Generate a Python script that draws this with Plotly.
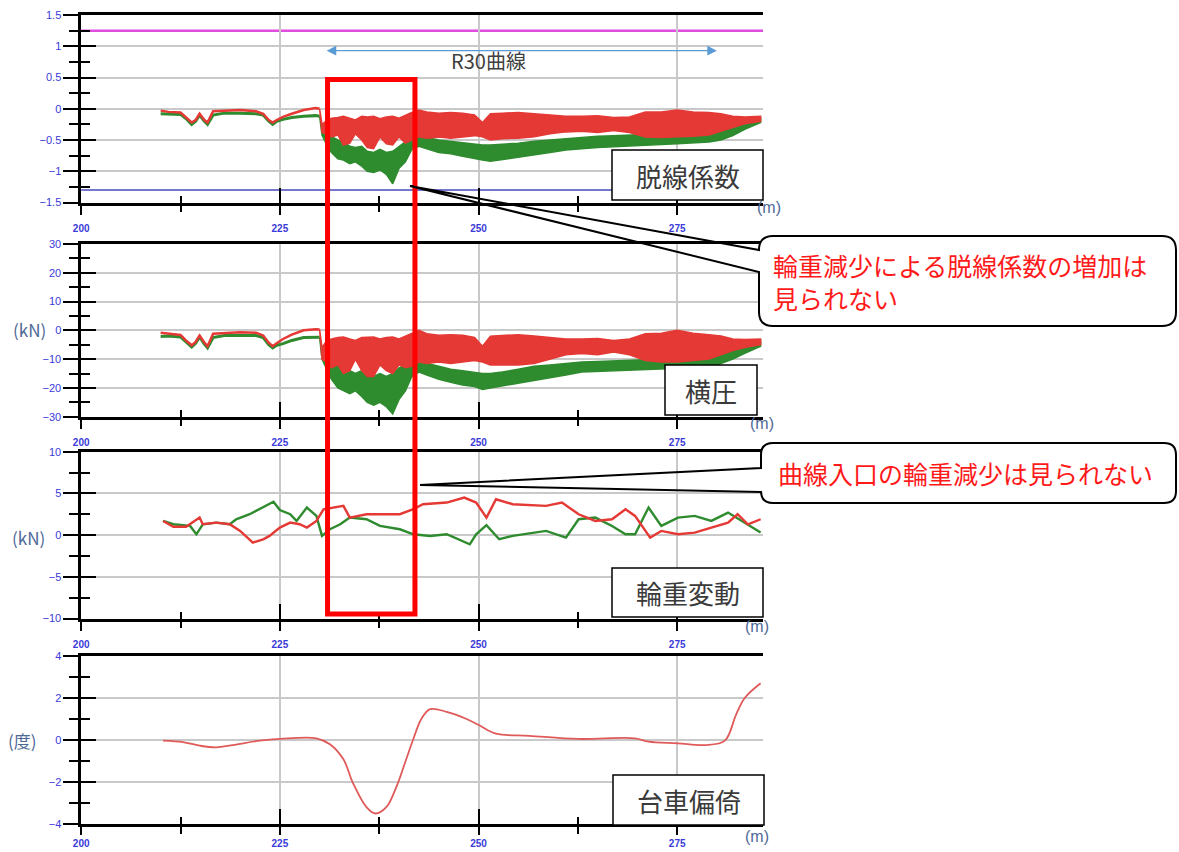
import plotly.graph_objects as go

W, H = 1179, 852

# ---------------- data ----------------
# distance (m) for the smooth lead-in section before the curve
EARLY_X = [210, 211, 212.5, 213.3, 213.9, 214.4, 214.9, 215.5, 215.9, 216.6, 218, 220,
           222, 222.9, 223.6, 224.1, 224.6, 225.4, 226.5, 228, 229.5, 230.0]
# derailment coefficient, lead-in
COEF_GRN_EARLY = [-0.08, -0.08, -0.09, -0.17, -0.25, -0.2, -0.1, -0.2, -0.25, -0.1, -0.07, -0.07,
                  -0.08, -0.1, -0.2, -0.25, -0.2, -0.17, -0.14, -0.12, -0.11, -0.12]
COEF_RED_EARLY = [-0.03, -0.05, -0.06, -0.15, -0.22, -0.18, -0.08, -0.18, -0.22, -0.04, -0.03, -0.02,
                  -0.04, -0.08, -0.18, -0.22, -0.18, -0.13, -0.08, -0.02, 0.01, 0.0]
# lateral force (kN), lead-in
LAT_GRN_EARLY = [-2.1, -2.0, -2.3, -4.5, -5.8, -4.5, -2.3, -4.8, -6.1, -2.5, -1.8, -1.7,
                 -1.8, -2.5, -5.0, -6.1, -5.2, -4.6, -3.5, -2.5, -2.3, -2.4]
LAT_RED_EARLY = [-0.8, -1.2, -1.6, -3.8, -5.2, -4.0, -1.8, -4.2, -5.5, -1.2, -0.9, -0.7,
                 -0.8, -1.8, -4.3, -5.5, -4.5, -3.0, -1.5, 0.0, 0.4, 0.3]

# distance (m) inside the R30 curve, where the signals oscillate (upper / lower envelope)
BAND_X = [230.0, 230.3, 230.8, 231.5, 232.3, 233, 233.8, 234.5, 235.3,
          236, 236.8, 237.6, 238.4, 239.2, 240, 240.8, 241.6, 242.5, 243.5,
          245, 246.5, 248, 249.5, 250.5, 251.5, 253, 255, 257, 259,
          261, 263, 265, 267, 269, 271, 273, 275, 277, 279,
          280.5, 282, 283.5, 285.5]
COEF_RED_HI = [0.0, -0.25, -0.2, -0.15, -0.14, -0.12, -0.15, -0.18, -0.12,
               -0.13, -0.12, -0.16, -0.13, -0.12, -0.15, -0.1, -0.06, -0.02, -0.05,
               -0.07, -0.06, -0.07, -0.1, -0.22, -0.08, -0.07, -0.06, -0.08, -0.1,
               -0.12, -0.12, -0.11, -0.14, -0.13, -0.05, -0.05, -0.02, -0.05, -0.06,
               -0.08, -0.12, -0.13, -0.12]
COEF_RED_LO = [0.0, -0.38, -0.4, -0.45, -0.42, -0.58, -0.55, -0.4, -0.5,
               -0.62, -0.64, -0.45, -0.56, -0.58, -0.45, -0.55, -0.5, -0.45, -0.47,
               -0.45, -0.47, -0.45, -0.43, -0.45, -0.5, -0.48, -0.47, -0.45, -0.4,
               -0.37, -0.36, -0.38, -0.35, -0.38, -0.45, -0.46, -0.45, -0.44, -0.42,
               -0.36, -0.3, -0.24, -0.2]
COEF_GRN_HI = [-0.12, -0.3, -0.4, -0.45, -0.5, -0.52, -0.6, -0.62, -0.6,
               -0.68, -0.7, -0.65, -0.7, -0.68, -0.6, -0.52, -0.45, -0.42, -0.46,
               -0.5, -0.52, -0.54, -0.56, -0.58, -0.58, -0.57, -0.55, -0.52, -0.5,
               -0.47, -0.45, -0.44, -0.43, -0.42, -0.4, -0.4, -0.4, -0.39, -0.38,
               -0.36, -0.3, -0.24, -0.15]
COEF_GRN_LO = [-0.12, -0.42, -0.55, -0.7, -0.8, -0.82, -0.88, -0.85, -0.92,
               -1.0, -1.02, -0.98, -1.05, -1.2, -0.95, -0.85, -0.65, -0.6, -0.64,
               -0.7, -0.72, -0.76, -0.8, -0.82, -0.84, -0.82, -0.78, -0.74, -0.7,
               -0.66, -0.64, -0.62, -0.6, -0.6, -0.58, -0.57, -0.56, -0.55, -0.53,
               -0.5, -0.43, -0.33, -0.22]
LAT_RED_HI = [0.3, -6, -4, -3, -2.5, -2.3, -3, -3.5, -2.5,
              -2.5, -2.3, -3, -2.5, -2.3, -3, -2, -1, 0, -1.2,
              -1.7, -1.5, -1.7, -2.5, -5.5, -2, -1.7, -1.5, -2, -2.5,
              -3, -3, -2.8, -3.5, -3, -1.2, -1, 0, -1, -1.5,
              -2, -3, -3.2, -3]
LAT_RED_LO = [0.3, -10, -11, -13, -12, -15, -14, -10, -14,
              -16, -16, -12, -14, -15, -12, -13, -12.5, -11, -11.5,
              -11, -11.5, -11, -10.5, -11, -12, -12, -12, -11.5, -10,
              -8.5, -8, -8.5, -7.5, -8.5, -10.5, -11, -11, -10.5, -10,
              -8.5, -7, -6, -5]
LAT_GRN_HI = [-2.4, -7, -9, -10, -11.5, -12, -14, -15, -14,
              -15.5, -16, -15, -16, -15, -13, -12, -11, -10.5, -11.5,
              -12.5, -13.5, -14, -14.5, -15, -15, -14.5, -13.5, -12.5, -12,
              -11.5, -11, -10.8, -10.6, -10.5, -10.4, -10, -9.8, -9.5, -9.2,
              -8.5, -7, -5.5, -3.8]
LAT_GRN_LO = [-2.4, -10, -13, -17, -20, -21, -22, -21, -23,
              -25, -26, -25, -26.5, -29, -24, -21, -16, -14.5, -15.5,
              -17, -18, -19, -19.5, -20.5, -20, -19.5, -18.5, -17.5, -16.5,
              -15.5, -14.5, -14.2, -14, -14, -13.8, -13.5, -13.2, -13, -12.7,
              -11.5, -10, -8, -5.5]

# wheel load variation (kN)
LOAD_RED_X = [210.3, 211.6, 213.2, 214.5, 214.9, 215.3, 217, 218.7, 220, 221.6, 222.9, 223.7,
              225, 226.3, 227.5, 228.4, 229.6, 230.5, 231.7, 233, 233.8, 235.9, 237.6, 240.1,
              241.8, 243, 246, 248.2, 249.7, 251, 252.2, 254.3, 258.5, 260.5, 262.6, 264.7,
              266.8, 268.5, 269.7, 271.6, 273, 275.1, 277.2, 279.3, 281.4, 282.6, 283.9, 285.5]
LOAD_RED = [1.7, 1.0, 1.0, 1.9, 2.1, 1.3, 1.5, 1.3, 0.5, -0.9, -0.5, -0.1,
            0.9, 1.5, 1.3, 0.9, 1.7, 3.1, 3.3, 3.5, 2.1, 2.5, 2.5, 2.5,
            3.1, 3.7, 3.9, 4.5, 3.9, 2.1, 4.3, 3.7, 3.5, 3.9, 2.5, 1.7,
            1.9, 3.1, 2.3, -0.3, 0.5, 0.1, 0.3, 0.9, 1.5, 2.5, 1.3, 1.9]
LOAD_GRN_X = [210.3, 211.6, 213.7, 214.5, 215.3, 217, 218.7, 219.5, 221.2, 222.9, 224.2, 225,
              226.3, 227.1, 228.4, 229.6, 230.3, 231.3, 232.6, 233.8, 235.9, 237.6, 240.1, 241.8,
              243.9, 246, 248.9, 249.7, 251, 252.6, 254.3, 258.5, 261, 262.6, 264.7, 266.8,
              268.5, 269.7, 271.4, 273, 275.1, 277.2, 279.3, 281.4, 283.5, 285.5]
LOAD_GRN = [1.7, 1.3, 1.1, 0.1, 1.3, 1.5, 1.3, 1.9, 2.5, 3.3, 4.0, 3.0,
            2.5, 1.7, 3.3, 2.3, -0.1, 0.7, 1.3, 2.1, 1.9, 1.1, 0.7, 0.1,
            -0.1, 0.1, -1.1, 0.1, 1.2, -0.5, -0.1, 0.5, -0.3, 1.9, 2.1, 1.1,
            0.1, 0.1, 3.3, 1.1, 2.1, 2.3, 1.7, 2.7, 1.5, 0.3]

# bogie yaw angle (degrees)
YAW_X = [210.3, 212.8, 214.9, 217, 219.1, 222.5, 225, 229.6, 231.3, 233, 234.2, 235.9,
         237, 238.4, 239.7, 240.75, 241.8, 242.8, 243.9, 246, 248.5, 250.1, 252.2, 256.4,
         262.6, 269.7, 271.4, 275.1, 278.5, 281, 282.4, 283.5, 285.5]
YAW = [-0.03, -0.1, -0.27, -0.35, -0.24, -0.03, 0.05, 0.08, -0.2, -0.92, -2.05, -3.2,
       -3.5, -3.2, -2.2, -1.08, 0.05, 1.0, 1.47, 1.34, 1.0, 0.7, 0.3, 0.2,
       0.05, 0.08, -0.08, -0.16, -0.24, -0.03, 1.2, 2.0, 2.7]

COEF_LIMIT_UPPER = 1.25
COEF_LIMIT_LOWER = -1.3
CURVE_START, CURVE_END = 230.7, 280.0
FOCUS_START, FOCUS_END = 231.0, 242.0

X_RANGE = [200, 285.8]
PANELS = [
    dict(top=15, bottom=202.5, rng=[-1.5, 1.5], dtick=0.5, standoff=5),
    dict(top=244, bottom=416.7, rng=[-30, 30], dtick=10, standoff=5),
    dict(top=451.7, bottom=618.5, rng=[-10, 10], dtick=5, standoff=5),
    dict(top=656, bottom=824, rng=[-4, 4], dtick=2, standoff=0),
]

# ---------------- styling ----------------
RED = "#e53935"
GREEN = "#2e8b2e"
YAW_RED = "#e05a5a"
GRID = "#c9c9c9"
TICK_BLUE = "#3a3ad8"
UNIT_BLUE = "#4e6896"
JP = "Noto Sans CJK JP"


def px(x):
    return x / W


def py(y):
    return 1 - y / H


fig = go.Figure()


def band(xs, hi, lo, color, xa, ya):
    fig.add_trace(go.Scatter(
        x=list(xs) + list(xs)[::-1], y=list(hi) + list(lo)[::-1],
        fill="toself", fillcolor=color, mode="lines",
        line=dict(color=color, width=1.5), xaxis=xa, yaxis=ya,
        hoverinfo="skip", showlegend=False))


def line(xs, ys, color, xa, ya, width=2.5, shape="linear"):
    fig.add_trace(go.Scatter(
        x=xs, y=ys, mode="lines", line=dict(color=color, width=width, shape=shape),
        xaxis=xa, yaxis=ya, hoverinfo="skip", showlegend=False))


# panel 1: derailment coefficient
band(BAND_X, COEF_GRN_HI, COEF_GRN_LO, GREEN, "x", "y")
line(EARLY_X, COEF_GRN_EARLY, GREEN, "x", "y", width=3)
band(BAND_X, COEF_RED_HI, COEF_RED_LO, RED, "x", "y")
line(EARLY_X, COEF_RED_EARLY, RED, "x", "y", width=2.5)

# panel 2: lateral force
band(BAND_X, LAT_GRN_HI, LAT_GRN_LO, GREEN, "x2", "y2")
line(EARLY_X, LAT_GRN_EARLY, GREEN, "x2", "y2", width=3)
band(BAND_X, LAT_RED_HI, LAT_RED_LO, RED, "x2", "y2")
line(EARLY_X, LAT_RED_EARLY, RED, "x2", "y2", width=2.5)

# panel 3: wheel load variation
line(LOAD_GRN_X, LOAD_GRN, GREEN, "x3", "y3", width=2.4)
line(LOAD_RED_X, LOAD_RED, RED, "x3", "y3", width=2.4)

# panel 4: bogie yaw
line(YAW_X, YAW, YAW_RED, "x4", "y4", width=1.8, shape="spline")

# empty traces so that the inner-tick overlay axes are drawn
for i in range(1, 5):
    xs_ = "x" if i == 1 else f"x{i}"
    ys_ = "y" if i == 1 else f"y{i}"
    fig.add_trace(go.Scatter(x=[], y=[], xaxis=f"x{i + 4}", yaxis=ys_, showlegend=False))
    fig.add_trace(go.Scatter(x=[], y=[], xaxis=xs_, yaxis=f"y{i + 4}", showlegend=False))

layout = dict(
    width=W, height=H, autosize=False,
    margin=dict(l=0, r=0, t=0, b=0, pad=0),
    paper_bgcolor="white", plot_bgcolor="white",
    showlegend=False,
)

x_dom = [px(81.2), px(763)]
for i, p in enumerate(PANELS, start=1):
    xk = "xaxis" if i == 1 else f"xaxis{i}"
    yk = "yaxis" if i == 1 else f"yaxis{i}"
    xref = "x" if i == 1 else f"x{i}"
    yref = "y" if i == 1 else f"y{i}"
    y_dom = [py(p["bottom"]), py(p["top"])]
    layout[xk] = dict(
        domain=x_dom, anchor=yref, range=X_RANGE, tick0=200, dtick=25,
        showgrid=True, gridcolor=GRID, gridwidth=1.5, zeroline=False,
        showline=True, linecolor="black", linewidth=2.5, mirror=True,
        ticks="outside", ticklen=10 if i < 4 else 8, tickwidth=2, tickcolor="black",
        minor=dict(tick0=200, dtick=12.5, ticks="outside", ticklen=7, tickwidth=2,
                   tickcolor="black", showgrid=False),
        tickfont=dict(family="Liberation Sans", size=10, color=TICK_BLUE, weight="bold"),
        ticklabelstandoff=p["standoff"], automargin=False, fixedrange=True,
    )
    layout[yk] = dict(
        domain=y_dom, anchor=xref, range=p["rng"], tick0=0, dtick=p["dtick"],
        showgrid=True, gridcolor=GRID, gridwidth=1.5, zeroline=False,
        showline=True, linecolor="black", linewidth=2.5,
        ticks="outside", ticklen=15, tickwidth=2, tickcolor="black",
        minor=dict(dtick=p["dtick"] / 2, ticks="outside", ticklen=9, tickwidth=2,
                   tickcolor="black", showgrid=False),
        tickfont=dict(family="Liberation Sans", size=11, color=TICK_BLUE),
        automargin=False, fixedrange=True,
    )
    # overlay axes carry the inner half of the crossing tick marks
    layout[f"xaxis{i + 4}"] = dict(
        overlaying=xref, anchor=yref, side="bottom", range=X_RANGE, tick0=200, dtick=25,
        showgrid=False, zeroline=False, showline=False, showticklabels=False,
        ticks="inside", ticklen=15, tickwidth=2, tickcolor="black",
        minor=dict(tick0=200, dtick=12.5, ticks="inside", ticklen=7, tickwidth=2,
                   tickcolor="black", showgrid=False),
        automargin=False, fixedrange=True,
    )
    layout[f"yaxis{i + 4}"] = dict(
        overlaying=yref, anchor=xref, side="left", range=p["rng"], tick0=0, dtick=p["dtick"],
        showgrid=False, zeroline=False, showline=False, showticklabels=False,
        ticks="inside", ticklen=15, tickwidth=2, tickcolor="black",
        minor=dict(dtick=p["dtick"] / 2, ticks="inside", ticklen=9, tickwidth=2,
                   tickcolor="black", showgrid=False),
        automargin=False, fixedrange=True,
    )

fig.update_layout(**layout)

shapes = []
annotations = []

# derailment coefficient limit lines
shapes.append(dict(type="line", xref="x domain", yref="y", x0=0, x1=1,
                   y0=COEF_LIMIT_UPPER, y1=COEF_LIMIT_UPPER,
                   line=dict(color="#e04be0", width=2.5), layer="below"))
shapes.append(dict(type="line", xref="x domain", yref="y", x0=0, x1=1,
                   y0=COEF_LIMIT_LOWER, y1=COEF_LIMIT_LOWER,
                   line=dict(color="#7676cc", width=1.8), layer="below"))

# R30 curve extent arrow
annotations.append(dict(x=CURVE_END, y=0.93, ax=CURVE_START, ay=0.93, xref="x", yref="y",
                        axref="x", ayref="y", text="", showarrow=True,
                        arrowside="end+start", arrowhead=2, arrowsize=1.6,
                        arrowwidth=1.2, arrowcolor="#5b9bd5", standoff=0, startstandoff=0))
annotations.append(dict(x=px(488), y=py(61), xref="paper", yref="paper", text="R30曲線",
                        showarrow=False, xanchor="center", yanchor="middle",
                        font=dict(family=JP, size=20, color="#404040")))

# highlighted curve-entry window
shapes.append(dict(type="rect", xref="x", yref="paper", x0=FOCUS_START, x1=FOCUS_END,
                   y0=py(614), y1=py(79.5), line=dict(color="#ff0000", width=5),
                   fillcolor="rgba(0,0,0,0)", layer="above"))

# panel title boxes
for (x0, y0, x1, y1, label) in [(612, 150, 763, 200, "脱線係数"),
                                (665, 365, 757, 415, "横圧"),
                                (612, 568, 763, 617, "輪重変動"),
                                (613, 775, 764, 825, "台車偏倚")]:
    shapes.append(dict(type="rect", xref="paper", yref="paper",
                       x0=px(x0), x1=px(x1), y0=py(y1), y1=py(y0),
                       fillcolor="white", line=dict(color="black", width=1.5), layer="above"))
    annotations.append(dict(x=px((x0 + x1) / 2), y=py((y0 + y1) / 2), xref="paper", yref="paper",
                            text=label, showarrow=False, xanchor="center", yanchor="middle",
                            font=dict(family=JP, size=26, color="#3a3a3a")))

# unit labels
for (xc, yc, t) in [(29, 330, "(kN)"), (28, 537, "(kN)"), (22, 740, "(度)")]:
    annotations.append(dict(x=px(xc), y=py(yc), xref="paper", yref="paper", text=t,
                            showarrow=False, xanchor="center", yanchor="middle",
                            font=dict(family=JP, size=17, color=UNIT_BLUE)))
for (xc, yc) in [(769, 207), (762, 423), (757, 626), (757, 836)]:
    annotations.append(dict(x=px(xc), y=py(yc), xref="paper", yref="paper", text="(m)",
                            showarrow=False, xanchor="center", yanchor="middle",
                            font=dict(family="Liberation Sans", size=16, color=UNIT_BLUE)))


def callout(L, R, T, B, r, a1, a2, tip):
    X = lambda v: f"{px(v):.5f}"
    Y = lambda v: f"{py(v):.5f}"
    box = (f"M{X(L)},{Y(T + r)} Q{X(L)},{Y(T)} {X(L + r)},{Y(T)} L{X(R - r)},{Y(T)} "
           f"Q{X(R)},{Y(T)} {X(R)},{Y(T + r)} L{X(R)},{Y(B - r)} Q{X(R)},{Y(B)} {X(R - r)},{Y(B)} "
           f"L{X(L + r)},{Y(B)} Q{X(L)},{Y(B)} {X(L)},{Y(B - r)} Z")
    shapes.append(dict(type="path", xref="paper", yref="paper", path=box,
                       fillcolor="white", line=dict(width=0), layer="above"))
    outline = (f"M{X(tip[0])},{Y(tip[1])} L{X(L)},{Y(a1)} L{X(L)},{Y(T + r)} "
               f"Q{X(L)},{Y(T)} {X(L + r)},{Y(T)} L{X(R - r)},{Y(T)} "
               f"Q{X(R)},{Y(T)} {X(R)},{Y(T + r)} L{X(R)},{Y(B - r)} Q{X(R)},{Y(B)} {X(R - r)},{Y(B)} "
               f"L{X(L + r)},{Y(B)} Q{X(L)},{Y(B)} {X(L)},{Y(B - r)} L{X(L)},{Y(a2)} "
               f"L{X(tip[0])},{Y(tip[1])}")
    shapes.append(dict(type="path", xref="paper", yref="paper", path=outline,
                       fillcolor="rgba(0,0,0,0)", line=dict(color="black", width=2),
                       layer="above"))


callout(759, 1176, 236, 326, 14, 250, 272, (410, 186))
callout(761, 1176, 443, 503, 12, 468, 492, (420, 485))

annotations.append(dict(x=px(771), y=py(281), xref="paper", yref="paper",
                        text="輪重減少による脱線係数の増加は<br>見られない",
                        showarrow=False, xanchor="left", yanchor="middle", align="left",
                        font=dict(family=JP, size=25, color="#ff1a1a")))
annotations.append(dict(x=px(776), y=py(473), xref="paper", yref="paper",
                        text="曲線入口の輪重減少は見られない",
                        showarrow=False, xanchor="left", yanchor="middle", align="left",
                        font=dict(family=JP, size=25, color="#ff1a1a")))

fig.update_layout(shapes=shapes, annotations=annotations)
fig.write_html("out.html")
